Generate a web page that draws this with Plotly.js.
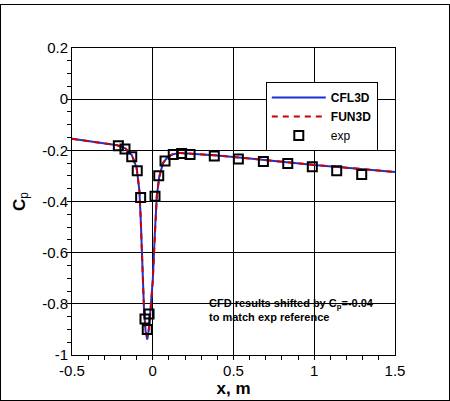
<!DOCTYPE html>
<html>
<head>
<meta charset="utf-8">
<script src="https://cdn.plot.ly/plotly-3.0.1.min.js"></script>
<style>
  html, body { margin: 0; padding: 0; background: #fff; }
  #wrap { position: relative; width: 450px; height: 401px; }
  #chart { position: absolute; left: 0; top: 0; width: 450px; height: 401px; }
  #frame { position: absolute; left: 0; top: 4px; width: 448px; height: 395px; border: 1px solid #000; pointer-events: none; }
</style>
</head>
<body>
<div id="wrap">
  <div id="chart"></div>
  <div id="frame"></div>
</div>
<script>
// CFD surface pressure (already shifted by Cp = -0.04)
const cfdX = [-0.5, -0.4, -0.3, -0.22, -0.17, -0.13, -0.10, -0.083, -0.075, -0.065, -0.054, -0.044, -0.034, -0.024, -0.012, 0.0, 0.014, 0.025, 0.04, 0.063, 0.09, 0.12, 0.17, 0.25, 0.4, 0.6, 0.8, 1.0, 1.2, 1.4, 1.5];
const cfl3dCp = [-0.155, -0.163, -0.171, -0.180, -0.192, -0.218, -0.268, -0.355, -0.46, -0.64, -0.824, -0.91, -0.94, -0.90, -0.82, -0.71, -0.51, -0.38, -0.305, -0.25, -0.228, -0.216, -0.210, -0.213, -0.220, -0.232, -0.245, -0.257, -0.268, -0.279, -0.285];
const fun3dCp = [-0.155, -0.163, -0.171, -0.180, -0.192, -0.218, -0.268, -0.355, -0.46, -0.64, -0.824, -0.905, -0.928, -0.895, -0.82, -0.71, -0.51, -0.38, -0.305, -0.25, -0.228, -0.216, -0.210, -0.213, -0.220, -0.232, -0.245, -0.257, -0.268, -0.279, -0.285];

// Experimental data
const expX = [-0.213, -0.172, -0.130, -0.096, -0.075, -0.048, -0.034, -0.023, 0.014, 0.037, 0.076, 0.127, 0.179, 0.231, 0.381, 0.530, 0.685, 0.836, 0.988, 1.139, 1.294];
const expCp = [-0.182, -0.195, -0.225, -0.280, -0.384, -0.859, -0.900, -0.840, -0.379, -0.299, -0.242, -0.216, -0.212, -0.216, -0.222, -0.234, -0.244, -0.251, -0.264, -0.280, -0.294];

const xTicks = [-0.5, 0, 0.5, 1, 1.5];
const xTickText = ['-0.5', '0', '0.5', '1', '1.5'];
const yTicks = [-1, -0.8, -0.6, -0.4, -0.2, 0, 0.2];
const yTickText = ['-1', '-0.8', '-0.6', '-0.4', '-0.2', '0', '0.2'];

const FONT = 'Liberation Sans, Arial, Helvetica, sans-serif';

const traces = [
  { x: cfdX, y: cfl3dCp, mode: 'lines', name: '<b>CFL3D</b>',
    line: { color: '#1f2fd6', width: 2 } },
  { x: cfdX, y: fun3dCp, mode: 'lines', name: '<b>FUN3D</b>',
    line: { color: '#cc0000', width: 2, dash: '6px,5px' } },
  { x: expX, y: expCp, mode: 'markers', name: 'exp',
    marker: { symbol: 'square-open', size: 9, color: '#000', line: { color: '#000', width: 2 } } }
];

const axisCommon = {
  showline: true, mirror: true, linecolor: '#000', linewidth: 1,
  showgrid: true, gridcolor: '#000', gridwidth: 1,
  zeroline: false, ticks: 'inside', ticklen: 8, tickwidth: 1, tickcolor: '#000',
  tickfont: { family: FONT, size: 15, color: '#000' },
  automargin: false
};

const layout = {
  width: 450, height: 401,
  margin: { l: 72, r: 55, t: 48, b: 46 },
  paper_bgcolor: '#fff', plot_bgcolor: '#fff',
  showlegend: true,
  xaxis: Object.assign({}, axisCommon, {
    range: [-0.5, 1.5], tickmode: 'array', tickvals: xTicks, ticktext: xTickText,
    ticklabelstandoff: 2,
    minor: { dtick: 0.1, ticklen: 4, tickcolor: '#000', showgrid: false },
    title: { text: '<b>x, m</b>', font: { family: FONT, size: 17, color: '#000' }, standoff: 3 }
  }),
  yaxis: Object.assign({}, axisCommon, {
    range: [-1, 0.2], tickmode: 'array', tickvals: yTicks, ticktext: yTickText,
    minor: { dtick: 0.05, ticklen: 4, tickcolor: '#000', showgrid: false },
    title: { text: '<b>C</b><sub>p</sub>', font: { family: FONT, size: 17, color: '#000' }, standoff: 12 }
  }),
  legend: {
    x: 0.60, y: 0.889, xanchor: 'left', yanchor: 'top',
    bgcolor: '#fff', bordercolor: '#000', borderwidth: 1,
    font: { family: FONT, size: 12, color: '#000' },
    itemwidth: 54
  },
  annotations: [{
    xref: 'paper', yref: 'paper', x: 0.418, y: 0.145, xanchor: 'left', yanchor: 'middle',
    align: 'left', showarrow: false,
    text: '<b>CFD results shifted by C<sub>p</sub>=-0.04<br>to match exp reference</b>',
    font: { family: FONT, size: 11, color: '#000' }
  }]
};

Plotly.newPlot('chart', traces, layout, { staticPlot: true, displayModeBar: false });
</script>
</body>
</html>
